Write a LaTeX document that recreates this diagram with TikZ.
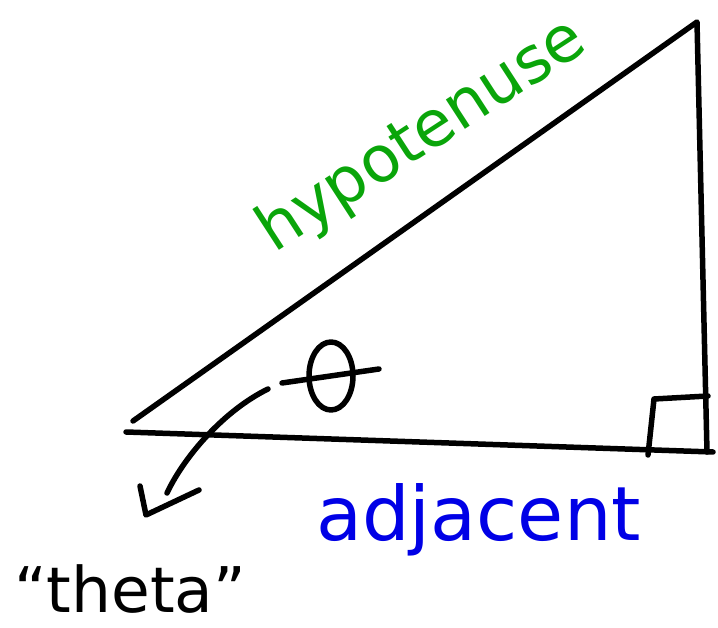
\documentclass[tikz,border=0pt]{standalone}
\usepackage{fontspec}
\setmainfont{DejaVu Sans}
\usetikzlibrary{shapes.geometric}
\definecolor{HypGreen}{RGB}{10,165,10}
\definecolor{AdjBlue}{RGB}{0,0,230}

\begin{document}
\begin{tikzpicture}[x=1pt,y=-1pt,
  pen/.style={line width=5.5pt,line cap=round,line join=round},
  word/.style={inner sep=0pt,font=\fontsize{#1}{#1}\selectfont}]
  \useasboundingbox (0,0) rectangle (718,628);
  % triangle
  \coordinate (left)  at (133,421);
  \coordinate (top)   at (697,22);
  \coordinate (right) at (707,452);
  \draw[pen] (left) -- (top) -- (right);
  \draw[pen] (126,432) -- (713,452);
  % right angle mark
  \draw[pen] (648,455) -- (654,399) -- (708,396);
  % angle
  \node[draw,pen,ellipse,minimum width=44pt,minimum height=68pt,inner sep=0pt] (theta) at (331,376) {};
  \draw[pen] (282,383) -- (379,369);
  % labels
  \node[word=64,text=HypGreen,rotate=33,anchor=base west] (hyp) at (274,254) {hypotenuse};
  \node[word=75,text=AdjBlue,anchor=base west] (adj) at (316,540) {adjacent};
  \node[word=63,anchor=base west] (name) at (14,612) {“theta”};
  % pointer to the name
  \coordinate (start) at (268,389);
  \coordinate (tip) at (146,515);
  \draw[pen] (start) .. controls (225,410) and (185,455) .. (167,493);
  \draw[pen] (140,486) -- (tip) -- (199,490);
\end{tikzpicture}
\end{document}
